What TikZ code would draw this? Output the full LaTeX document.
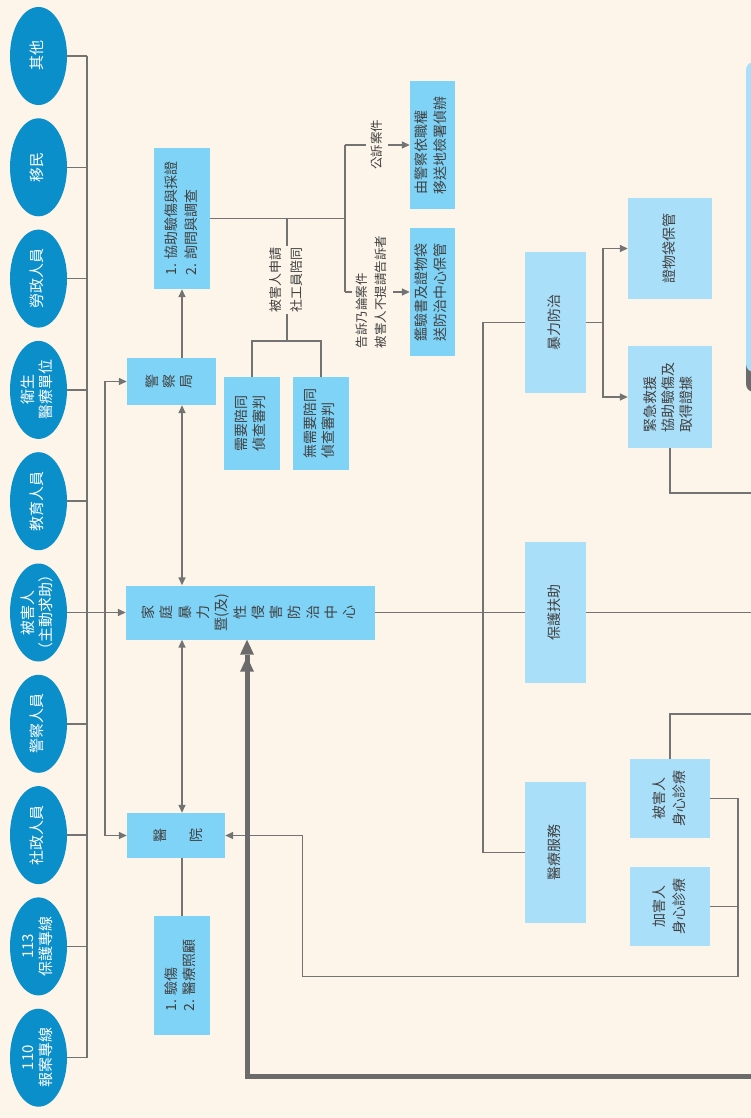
\documentclass[tikz,border=0pt]{standalone}
\usepackage{fontspec}
\setmainfont{Noto Sans CJK TC}
\usetikzlibrary{arrows.meta,shapes.geometric}
\definecolor{bg}{HTML}{FDF5E9}
\definecolor{ellblue}{HTML}{0A8FCB}
\definecolor{boxA}{HTML}{7FD3F7}
\definecolor{boxB}{HTML}{AADFF9}
\definecolor{ln}{HTML}{737373}
\definecolor{txt}{HTML}{404040}
\definecolor{thk}{HTML}{6B6B6B}
\newcommand{\rottext}[2][l]{\rotatebox{90}{\begin{tabular}{@{}#1@{}}#2\end{tabular}}}
\begin{document}
\begin{tikzpicture}[x=1pt,y=-1pt,
  ell/.style={ellipse, fill=ellblue, minimum width=57pt, minimum height=98pt, inner sep=0pt},
  elltext/.style={inner sep=0pt, text=white, font=\fontsize{15}{18}\selectfont},
  boxa/.style={rectangle, fill=boxA, inner sep=0pt, text=txt, font=\fontsize{14}{20}\selectfont},
  boxb/.style={rectangle, fill=boxB, inner sep=0pt, text=txt, font=\fontsize{14}{20}\selectfont},
  conn/.style={draw=ln, line width=1.5pt},
  arr/.style={conn, -{Triangle[length=8pt,width=7pt]}},
  darr/.style={conn, {Triangle[length=8pt,width=7pt]}-{Triangle[length=8pt,width=7pt]}},
  thkarr/.style={draw=thk, line width=5pt, -{Triangle[length=15pt,width=14pt,line width=0pt,sep=2pt] Triangle[length=15pt,width=14pt,line width=0pt]}},
  lbl/.style={fill=bg, inner sep=1.5pt, text=txt, font=\fontsize{12.5}{19}\selectfont},
]
\fill[bg] (0,0) rectangle (751,1118);
\useasboundingbox (0,0) rectangle (751,1118);
\clip (0,0) rectangle (751,1118);

% partial box at right edge
\fill[thk, rounded corners=8pt] (746,80) rectangle (790,392);
\fill[boxB, rounded corners=8pt] (746,62) rectangle (790,372);

% ellipses
\node[ell] (e0) at (38.5,56) {};
\node[ell] (e1) at (38.5,167.3) {};
\node[ell] (e2) at (38.5,278.6) {};
\node[ell] (e3) at (38.5,389.9) {};
\node[ell] (e4) at (38.5,501.2) {};
\node[ell] (e5) at (38.5,612.5) {};
\node[ell] (e6) at (38.5,723.8) {};
\node[ell] (e7) at (38.5,835.1) {};
\node[ell] (e8) at (38.5,946.4) {};
\node[ell] (e9) at (38.5,1057.7) {};
\node[elltext] (t0) at (e0.center) {\rottext[c]{其他}};
\node[elltext] (t1) at (e1.center) {\rottext[c]{移民}};
\node[elltext] (t2) at (e2.center) {\rottext[c]{勞政人員}};
\node[elltext] (t3) at (e3.center) {\rottext[c]{衛生\\醫療單位}};
\node[elltext] (t4) at (e4.center) {\rottext[c]{教育人員}};
\node[elltext] (t5) at (e5.center) {\rottext[c]{被害人\\（主動求助）}};
\node[elltext] (t6) at (e6.center) {\rottext[c]{警察人員}};
\node[elltext] (t7) at (e7.center) {\rottext[c]{社政人員}};
\node[elltext] (t8) at (e8.center) {\rottext[c]{113\\保護專線}};
\node[elltext] (t9) at (e9.center) {\rottext[c]{110\\報案專線}};

% boxes left part
\node[boxa, minimum width=56pt, minimum height=141pt] (assist) at (182,218.5) {\rottext{1. 協助驗傷與採證\\2. 詢問與調查}};
\node[boxa, minimum width=89pt, minimum height=47pt] (police) at (171.5,381.5) {\fontsize{14}{17}\selectfont\rottext[c]{警\\察\\局}};
\node[boxa, minimum width=56pt, minimum height=93pt] (need) at (252,423.5) {\fontsize{14}{18}\selectfont\rottext{需要陪同\\偵查審判}};
\node[boxa, minimum width=56pt, minimum height=93pt] (noneed) at (321,423.5) {\fontsize{14}{18}\selectfont\rottext{無需要陪同\\偵查審判}};
\node[boxa, minimum width=45pt, minimum height=128pt] (prosec) at (432.5,145) {\fontsize{14}{18.5}\selectfont\rottext{由警察依職權\\移送地檢署偵辦}};
\node[boxa, minimum width=45pt, minimum height=128pt] (evid) at (432.5,292) {\fontsize{14}{18.5}\selectfont\rottext{鑑驗書及證物袋\\送防治中心保管}};
\node[boxa, minimum width=249pt, minimum height=54pt] (center) at (250.5,612.5) {\fontsize{14}{18.3}\selectfont\rottext[c]{家\\庭\\暴\\力\\暨(及)\\性\\侵\\害\\防\\治\\中\\心}};
\node[boxa, minimum width=98pt, minimum height=45pt] (hosp) at (176,835.5) {\fontsize{14}{36}\selectfont\rottext[c]{醫\\院}};
\node[boxa, minimum width=56pt, minimum height=119pt] (hospcare) at (182,975.5) {\fontsize{14}{18.5}\selectfont\rottext{1. 驗傷\\2. 醫療照顧}};

% boxes right part
\node[boxb, minimum width=61pt, minimum height=141pt] (viol) at (555.5,322.5) {\rottext[c]{暴力防治}};
\node[boxb, minimum width=61pt, minimum height=141pt] (protect) at (555.5,612.5) {\rottext[c]{保護扶助}};
\node[boxb, minimum width=61pt, minimum height=141pt] (medsvc) at (555.5,852.5) {\rottext[c]{醫療服務}};
\node[boxb, minimum width=84pt, minimum height=101pt] (bag) at (670,248.5) {\rottext[c]{證物袋保管}};
\node[boxb, minimum width=84pt, minimum height=102pt] (rescue) at (670,397) {\fontsize{14}{18}\selectfont\rottext{緊急救援\\協助驗傷及\\取得證據}};
\node[boxb, minimum width=80pt, minimum height=79pt] (vict) at (670,798.5) {\fontsize{14}{20}\selectfont\rottext[c]{被害人\\身心診療}};
\node[boxb, minimum width=80pt, minimum height=79pt] (abuser) at (670,906.5) {\fontsize{14}{20}\selectfont\rottext[c]{加害人\\身心診療}};

% helper coordinates
\coordinate (bus) at (87,0);
\coordinate (v2) at (105,0);
\coordinate (jx) at (345,0);
\coordinate (sw) at (287,341);
\coordinate (hr) at (302.5,976.5);
\coordinate (rr) at (738,976.5);
\coordinate (tk) at (751,1076);
\coordinate (tx) at (247,0);
\coordinate (rv) at (483,0);
\coordinate (vj) at (603,0);
\coordinate (edge) at (751,0);

% ellipse bus
\foreach \i in {0,...,9} { \draw[conn] (e\i.east) -- (e\i.east -| bus); }
\draw[conn] (e0.east -| bus) -- (e9.east -| bus);

% victim to center, second bus
\draw[arr] (e5.east) -- (center.west);
\draw[arr] (e5.east -| v2) |- (police.west);
\draw[arr] (e5.east -| v2) |- (hosp.west);

% police / center / hospital
\draw[darr] (assist.south |- police.south) -- (assist.south |- center.north);
\draw[arr] (assist.south |- police.north) -- (assist.south);
\draw[darr] (assist.south |- center.south) -- (assist.south |- hosp.north);
\draw[conn] (hospcare.north |- hosp.south) -- (hospcare.north);

% investigation branches
\draw[conn] (assist.east) -- (assist.east -| jx);
\draw[conn] (jx |- prosec.west) -- (jx |- evid.west);
\draw[arr] (jx |- prosec.west) -- node[lbl]{\rottext{公訴案件}} (prosec.west);
\draw[arr] (jx |- evid.west) -- node[lbl, pos=0.42]{\rottext{告訴乃論案件\\被害人不提請告訴者}} (evid.west);

% social worker accompaniment
\draw[conn] (need.north) -- (need.north |- sw) -- (noneed.north |- sw) -- (noneed.north);
\draw[conn] (sw) -- node[lbl, font=\fontsize{13}{21}\selectfont]{\rottext{被害人申請\\社工員陪同}} (sw |- assist.east);

% counselling back to hospital
\draw[arr] (vict.east) -- (vict.east -| rr) -- (rr) -- (hr) -- (hr |- hosp.east) -- (hosp.east);
\draw[conn] (abuser.east) -- (abuser.east -| rr);

% thick return line
\draw[thkarr] (tk) -| (tx |- center.south);

% right part
\draw[conn] (center.east) -- (protect.west);
\draw[conn] (protect.east) -- (protect.east -| edge);
\draw[conn] (viol.west) -- (rv |- viol.west) -- (rv |- medsvc.west) -- (medsvc.west);
\draw[conn] (viol.east) -- (viol.east -| vj);
\draw[arr] (vj |- viol.east) |- (bag.west);
\draw[arr] (vj |- viol.east) |- (rescue.west);
\coordinate (r1) at (751,493);
\coordinate (r2) at (751,714);
\draw[conn] (rescue.south) |- (r1);
\draw[conn] (vict.north) |- (r2);
\end{tikzpicture}
\end{document}
